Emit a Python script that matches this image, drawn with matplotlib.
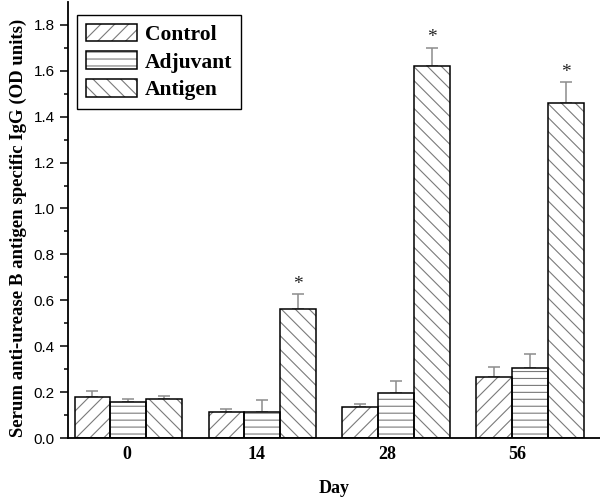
import matplotlib
matplotlib.use('Agg')
import matplotlib.pyplot as plt
import numpy as np
from matplotlib.patches import Patch
from matplotlib.legend_handler import HandlerTuple

days = ['0', '14', '28', '56']
groups = ['Control', 'Adjuvant', 'Antigen']
control = [0.180, 0.115, 0.135, 0.267]
control_err = [0.025, 0.013, 0.012, 0.043]
adjuvant = [0.158, 0.113, 0.198, 0.307]
adjuvant_err = [0.013, 0.051, 0.051, 0.058]
antigen = [0.169, 0.560, 1.620, 1.460]
antigen_err = [0.014, 0.066, 0.080, 0.090]
significant = [False, True, True, True]

serif = ['Liberation Serif', 'DejaVu Serif']
sans = ['Liberation Sans', 'DejaVu Sans']

# dpi 125 so the hatch spacing comes out near 7 px; k rescales point sizes
dpi = 125
k = 100 / dpi
plt.rcParams['hatch.linewidth'] = 0.8 * k

hatch_gray = '#7a7a7a'
err_gray = '#8c8c8c'
hatches = ['///', '---', '\\\\\\']

fig = plt.figure(figsize=(600 / dpi, 499 / dpi), dpi=dpi)
ax = fig.add_axes([0.1133, 0.1222, 0.8867, 0.874])

x = np.arange(len(days))
width = 0.268
series = [(control, control_err), (adjuvant, adjuvant_err), (antigen, antigen_err)]

handles = []
for i, (vals, errs) in enumerate(series):
    pos = x + (i - 1) * width
    # hatch drawn in gray, outline in black on top
    ax.bar(pos, vals, width, color='white', edgecolor=hatch_gray, linewidth=0,
           hatch=hatches[i], zorder=2)
    ax.bar(pos, vals, width, fill=False, edgecolor='black', linewidth=1.1 * k, zorder=3)
    ax.errorbar(pos, vals, yerr=[np.zeros(len(vals)), errs], fmt='none',
                ecolor=err_gray, elinewidth=1.1 * k, capsize=4 * k, capthick=1.1 * k, zorder=1)
    handles.append((Patch(facecolor='white', edgecolor=hatch_gray, linewidth=0, hatch=hatches[i]),
                    Patch(fill=False, edgecolor='black', linewidth=1.1 * k)))

# significance marks above the antigen bars
for j in range(len(days)):
    if significant[j]:
        ax.annotate('*', xy=(x[j] + width, antigen[j] + antigen_err[j]),
                    xytext=(0, 1 * k), textcoords='offset points', ha='center', va='bottom',
                    fontsize=14 * k, family=serif, color='#222222')

ax.set_xlim(-0.451, 3.52)
ax.set_ylim(0, 1.9)
ax.set_yticks(np.arange(0, 1.81, 0.2))
ax.set_yticks(np.arange(0.1, 1.9, 0.2), minor=True)
ax.set_yticklabels(['%.1f' % v for v in np.arange(0, 1.81, 0.2)], family=sans, fontsize=11 * k)
ax.tick_params(axis='y', which='major', direction='out', length=6 * k, width=1.1 * k, pad=3.5 * k)
ax.tick_params(axis='y', which='minor', direction='out', length=3 * k, width=1.1 * k)

ax.set_xticks(x * 0.972 - 0.013)
ax.set_xticklabels(days, family=serif, fontsize=13 * k, fontweight='bold')
ax.tick_params(axis='x', length=0, pad=6 * k)

ax.set_xlabel('Day', family=serif, fontsize=13 * k, fontweight='bold', labelpad=12 * k)
ax.set_ylabel('Serum anti-urease B antigen specific IgG (OD units)', family=serif,
              fontsize=13.5 * k, fontweight='bold')
ax.yaxis.set_label_coords(-0.077, 0.482)

for s in ['top', 'right']:
    ax.spines[s].set_visible(False)
for s in ['left', 'bottom']:
    ax.spines[s].set_linewidth(1.3 * k)

leg = ax.legend(handles, groups, handler_map={tuple: HandlerTuple(ndivide=1, pad=0)},
                loc='upper left', bbox_to_anchor=(0.017, 0.970), borderaxespad=0,
                prop={'family': serif, 'weight': 'bold', 'size': 15.5 * k},
                handlelength=2.4, handleheight=0.88, handletextpad=0.35,
                labelspacing=0.3, borderpad=0.4, fancybox=False, framealpha=1)
leg.get_frame().set_edgecolor('black')
leg.get_frame().set_linewidth(1.0 * k)

fig.savefig('out.png', dpi=dpi)
